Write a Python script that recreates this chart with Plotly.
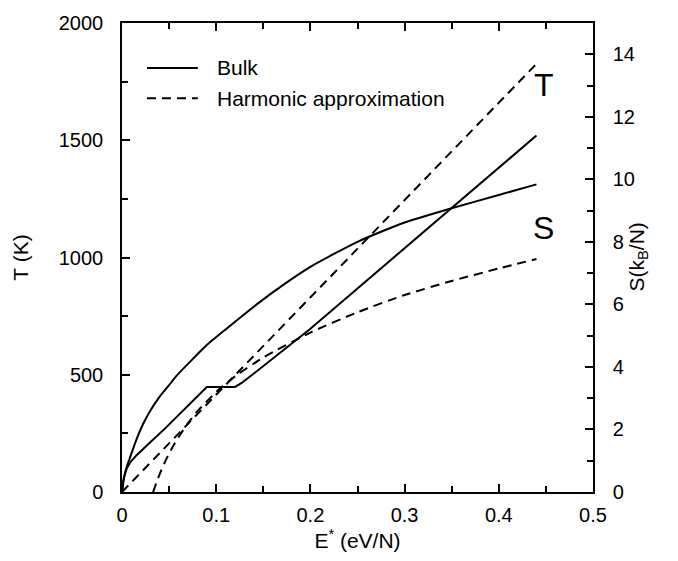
import plotly.graph_objects as go

# ---- data ----
E_bulk_T = [0, 0.002, 0.005, 0.009, 0.015, 0.02, 0.03, 0.045, 0.06, 0.075, 0.09, 0.12, 0.127, 0.14, 0.16, 0.2, 0.25, 0.3, 0.35, 0.4, 0.44]
T_bulk = [0, 60, 100, 128, 155, 175, 212, 268, 328, 390, 448, 448, 465, 505, 568, 696, 868, 1040, 1212, 1384, 1520]

E_bulk_S = [0, 0.002, 0.005, 0.0085, 0.015, 0.022, 0.03, 0.04, 0.05, 0.058, 0.075, 0.09, 0.11, 0.143, 0.17, 0.2, 0.25, 0.3, 0.348, 0.4, 0.44]
S_bulk = [0, 0.45, 0.8, 1.1, 1.65, 2.15, 2.6, 3.05, 3.42, 3.72, 4.25, 4.7, 5.2, 6.0, 6.6, 7.2, 8.0, 8.62, 9.06, 9.5, 9.84]

E_harm_T = [0, 0.44]
T_harm = [0, 1826]

E_harm_S = [0.033, 0.035, 0.038, 0.042, 0.047, 0.053, 0.06, 0.07, 0.08, 0.1, 0.12, 0.15, 0.2, 0.25, 0.3, 0.35, 0.4, 0.44]
S_harm = [0, 0.17, 0.42, 0.72, 1.05, 1.4, 1.75, 2.2, 2.58, 3.2, 3.7, 4.3, 5.1, 5.75, 6.3, 6.75, 7.15, 7.45]

legend_labels = ["Bulk", "Harmonic approximation"]

FONT = "Liberation Sans, Arial, Helvetica, sans-serif"
FS = 21
TFS = 20
DASH = "9px,6px"

fig = go.Figure()
fig.add_trace(go.Scatter(x=E_bulk_T, y=T_bulk, mode="lines", name=legend_labels[0],
                         line=dict(color="black", width=2), yaxis="y", showlegend=False))
fig.add_trace(go.Scatter(x=E_harm_T, y=T_harm, mode="lines", name=legend_labels[1],
                         line=dict(color="black", width=2, dash=DASH), yaxis="y", showlegend=False))
fig.add_trace(go.Scatter(x=E_bulk_S, y=S_bulk, mode="lines", showlegend=False,
                         line=dict(color="black", width=2, shape="spline", smoothing=0.6), yaxis="y2"))
fig.add_trace(go.Scatter(x=E_harm_S, y=S_harm, mode="lines", showlegend=False,
                         line=dict(color="black", width=2, dash=DASH, shape="spline", smoothing=0.6), yaxis="y2"))

axis_common = dict(showgrid=False, zeroline=False, showline=True, linecolor="black",
                   linewidth=1.5, ticks="inside", tickcolor="black", tickwidth=1.5,
                   tickfont=dict(family=FONT, size=TFS, color="black"))

fig.update_layout(
    width=678, height=561,
    margin=dict(l=122, r=85, t=12, b=69),
    paper_bgcolor="white", plot_bgcolor="white",
    font=dict(family=FONT, size=FS, color="black"),
    xaxis=dict(range=[0, 0.5], dtick=0.1, tick0=0, ticklen=8, mirror="ticks",
               minor=dict(dtick=0.05, ticks="inside", ticklen=6, tickcolor="black", tickwidth=1.5),
               tickformat="~g", ticklabelstandoff=4,
               title=dict(text="E<sup>*</sup> (eV/N)", standoff=4,
                          font=dict(family=FONT, size=FS, color="black")),
               **axis_common),
    yaxis=dict(range=[0, 2000], dtick=500, tick0=0, ticklen=8,
               minor=dict(dtick=250, ticks="inside", ticklen=6, tickcolor="black", tickwidth=1.5),
               ticklabelstandoff=13,
               title=dict(text="T (K)", standoff=24,
                          font=dict(family=FONT, size=FS, color="black")),
               **axis_common),
    yaxis2=dict(range=[0, 15], dtick=2, tick0=0, ticklen=8, overlaying="y", side="right",
                minor=dict(dtick=1, ticks="inside", ticklen=6, tickcolor="black", tickwidth=1.5),
                ticklabelstandoff=14,
                **axis_common),
    showlegend=False,
)

# legend drawn as key lines + labels
fig.add_shape(type="line", xref="paper", yref="paper", x0=0.053, x1=0.161,
              y0=1 - 46 / 480, y1=1 - 46 / 480, line=dict(color="black", width=2))
fig.add_shape(type="line", xref="paper", yref="paper", x0=0.053, x1=0.161,
              y0=1 - 77 / 480, y1=1 - 77 / 480, line=dict(color="black", width=2, dash=DASH))
fig.add_annotation(text=legend_labels[0], xref="paper", yref="paper", x=0.197, y=1 - 46 / 480,
                   xanchor="left", yanchor="middle", showarrow=False,
                   font=dict(family=FONT, size=FS, color="black"))
fig.add_annotation(text=legend_labels[1], xref="paper", yref="paper", x=0.197, y=1 - 77 / 480,
                   xanchor="left", yanchor="middle", showarrow=False,
                   font=dict(family=FONT, size=FS, color="black"))

fig.add_annotation(text="S(k<sub>B</sub>/N)", xref="paper", yref="paper",
                   x=1.0, xshift=44, y=0.5, xanchor="center", yanchor="middle",
                   textangle=-90, showarrow=False,
                   font=dict(family=FONT, size=FS, color="black"))
fig.add_annotation(text="T", x=0.448, y=1735, xref="x", yref="y", showarrow=False,
                   font=dict(family=FONT, size=32, color="black"))
fig.add_annotation(text="S", x=0.447, y=1125, xref="x", yref="y", showarrow=False,
                   font=dict(family=FONT, size=32, color="black"))

fig.write_html("out.html")
